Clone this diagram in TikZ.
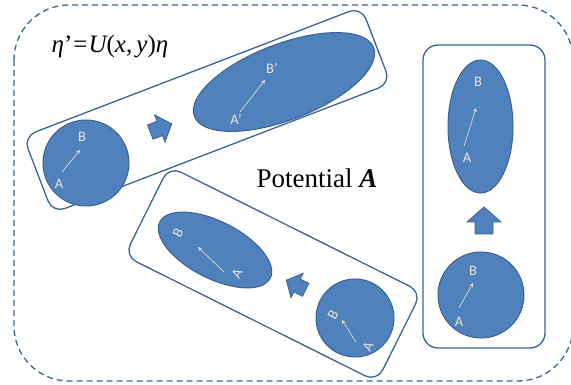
\documentclass[tikz,border=0pt]{standalone}
\usepackage{fontspec}
\setmainfont{Liberation Serif}
\newfontfamily\labfont{Carlito}
\usetikzlibrary{shapes.geometric,arrows.meta}
\definecolor{blobfill}{HTML}{4F81BD}
\definecolor{blobedge}{HTML}{3A6293}
\definecolor{boxedge}{HTML}{3C6596}
\definecolor{labcol}{HTML}{ECE6D2}
\tikzset{
  grpbox/.style={draw=boxedge, line width=1.3pt, rounded corners=13pt, rectangle, inner sep=0pt},
  blobc/.style={circle, draw=blobedge, fill=blobfill, line width=1pt, inner sep=0pt},
  blobe/.style={ellipse, draw=blobedge, fill=blobfill, line width=1pt, inner sep=0pt},
  lab/.style={text=labcol, font=\labfont\fontsize{14.5}{15}\selectfont, inner sep=0pt},
  labarrow/.style={draw=labcol, line width=0.6pt, -{Stealth[length=4pt,width=4pt,open]}},
  blockarrow/.style={fill=blobfill, draw=blobedge, line width=0.8pt, line join=miter},
  outer/.style={draw=boxedge, line width=1.3pt, dash pattern=on 6pt off 4pt, rounded corners=55pt}
}
\begin{document}
\begin{tikzpicture}[x=1pt, y=-1pt]
\clip (0,0) rectangle (571,385);
\fill[white] (0,0) rectangle (571,385);
% outer dashed frame
\draw[outer] (14,5) rectangle (573,381);
% formula and caption
\node[font=\fontsize{25}{28}\selectfont, inner sep=0pt] (formula) at (110,47)
  {\itshape η\upshape\char"0027\kern1pt=\kern1pt\itshape U\upshape (\itshape x\upshape ,\,\itshape y\upshape )\itshape η};
\node[font=\fontsize{27}{30}\selectfont, inner sep=0pt] (pot) at (317,178) {Potential \textbf{\textit{A}}};

% ---------- group 1 (tilted up-right) ----------
\node[grpbox, minimum width=362pt, minimum height=82pt, rotate=21] (g1) at (207,110) {};
\node[blobc, minimum size=86pt] (c1) at (86,163) {};
\node[blobe, minimum width=192pt, minimum height=76pt, rotate=21] (e1) at (284,82) {};
\draw[blockarrow, shift={(161,128)}, rotate=21, scale=0.85]
  (13.5,0) -- (-1.5,17) -- (-1.5,9) -- (-13.5,9) -- (-13.5,-9) -- (-1.5,-9) -- (-1.5,-17) -- cycle;
\node[lab] (c1B) at (82,137) {B};
\node[lab] (c1A) at (59,184) {A};
\coordinate (c1t) at (62,172); \coordinate (c1h) at (80,150);
\draw[labarrow] (c1t) -- (c1h);
\node[lab] (e1B) at (272,68) {B’};
\node[lab] (e1A) at (236,119) {A’};
\coordinate (e1t) at (240,112); \coordinate (e1h) at (265,80);
\draw[labarrow] (e1t) -- (e1h);

% ---------- group 2 (tilted down-right) ----------
\node[grpbox, minimum width=282pt, minimum height=100pt, rotate=-26.5] (g2) at (273,274) {};
\node[blobc, minimum size=78pt] (c2) at (355,318) {};
\node[blobe, minimum width=124pt, minimum height=57pt, rotate=-27] (e2) at (215,250) {};
\draw[blockarrow, shift={(296,285)}, rotate=153.5, scale=0.8]
  (13.5,0) -- (-1.5,17) -- (-1.5,9) -- (-13.5,9) -- (-13.5,-9) -- (-1.5,-9) -- (-1.5,-17) -- cycle;
\node[lab, rotate=63.5] (e2B) at (178,233) {B};
\node[lab, rotate=63.5] (e2A) at (237,274) {A};
\coordinate (e2t) at (224,272); \coordinate (e2h) at (198,247);
\draw[labarrow] (e2t) -- (e2h);
\node[lab, rotate=63.5] (c2B) at (333,315) {B};
\node[lab, rotate=63.5] (c2A) at (368,347) {A};
\coordinate (c2t) at (356,342); \coordinate (c2h) at (342,320);
\draw[labarrow] (c2t) -- (c2h);

% ---------- group 3 (vertical) ----------
\node[grpbox, minimum width=122pt, minimum height=303pt, rounded corners=15pt] (g3) at (484,196.5) {};
\node[blobc, minimum size=86pt] (c3) at (481,295) {};
\node[blobe, minimum width=65pt, minimum height=133pt] (e3) at (480.5,126.5) {};
\draw[blockarrow, shift={(484,220.5)}, rotate=90]
  (13.5,0) -- (-1.5,17) -- (-1.5,9) -- (-13.5,9) -- (-13.5,-9) -- (-1.5,-9) -- (-1.5,-17) -- cycle;
\node[lab] (c3B) at (473,271) {B};
\node[lab] (c3A) at (459,322) {A};
\coordinate (c3t) at (459,308); \coordinate (c3h) at (473,283);
\draw[labarrow] (c3t) -- (c3h);
\node[lab] (e3B) at (478,82) {B};
\node[lab] (e3A) at (467,158) {A};
\coordinate (e3t) at (464,146); \coordinate (e3h) at (476,108);
\draw[labarrow] (e3t) -- (e3h);
\end{tikzpicture}
\end{document}
